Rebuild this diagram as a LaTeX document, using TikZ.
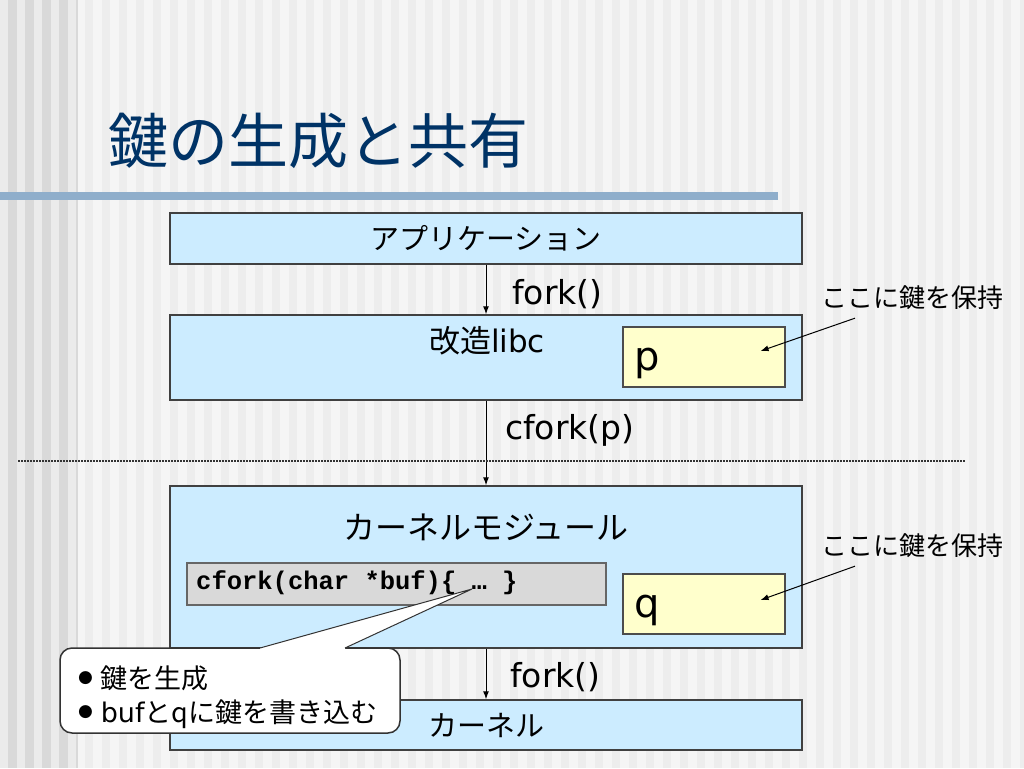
\documentclass[tikz,border=0pt]{standalone}
\usepackage{fontspec}
\setmainfont{Noto Sans CJK JP}
\setmonofont{Liberation Mono}
\newfontfamily\lat{DejaVu Sans}
\usepackage{xcolor}
\usetikzlibrary{arrows.meta}
\usetikzlibrary{positioning,calc}
\definecolor{layerblue}{RGB}{204,236,255}
\definecolor{keyyellow}{RGB}{255,255,204}
\definecolor{codegray}{RGB}{217,217,217}
\definecolor{titleblue}{RGB}{0,51,102}
\definecolor{rulebar}{RGB}{143,174,203}
\newcommand{\layerfont}{\fontsize{29}{34}\selectfont}
\newcommand{\notefont}{\fontsize{27}{34}\selectfont}
\newcommand{\dotmark}{\raisebox{6pt}{\fontsize{17}{17}\selectfont\lat ●}\hspace{8pt}}
\tikzset{
    layer/.style={
        draw=black!75,
        fill=layerblue,
        line width=1.5pt,
        minimum width=632pt,
        inner sep=0pt,
        font=\layerfont
    },
    keybox/.style={
        draw=black!70,
        fill=keyyellow,
        line width=1.2pt,
        minimum width=162pt,
        minimum height=60pt
    },
    codebox/.style={
        draw=black!60,
        fill=codegray,
        line width=1.2pt,
        minimum width=419pt,
        minimum height=42pt
    },
    callname/.style={
        anchor=west,
        inner sep=0pt,
        font=\fontsize{33}{38}\selectfont\lat
    },
    holdtext/.style={
        inner sep=2pt,
        font=\fontsize{26}{30}\selectfont
    },
    keyname/.style={
        anchor=west,
        inner sep=0pt,
        font=\fontsize{40}{46}\selectfont\lat
    },
    note/.style={
        draw=black!80,
        fill=white,
        line width=1.5pt,
        rounded corners=12pt,
        minimum width=340pt,
        minimum height=85pt,
        text width=304pt,
        align=left,
        inner sep=0pt,
        font=\notefont
    },
    arr/.style={
        draw,
        -{Latex[length=8pt, width=6pt]},
        line width=1pt
    }
}

\begin{document}
\begin{tikzpicture}[x=1pt, y=-1pt]
    % background
    \useasboundingbox (0,0) rectangle (1024,768);
    \fill[black!4] (0,0) rectangle (1024,768);
    \fill[black!15] (0,0) rectangle (78,768);
    \foreach \i in {0,...,60} {
        \pgfmathsetmacro\sh{\i<5 ? 8 : 7}
        \fill[black!\sh] (\i*17,0) rectangle ++(8,768);
    }
    \fill[rulebar] (0,192) rectangle (778,200);

    % title
    \node[anchor=west, inner sep=0pt, text=titleblue, font=\fontsize{60}{70}\selectfont] (title) at (108,141) {鍵の生成と共有};

    % layers
    \node[layer, minimum height=51pt] (app) at (486,238.5) {アプリケーション};
    \node[layer, minimum height=85pt] (libc) at (486,357.5) {};
    \node[inner sep=0pt, font=\fontsize{31}{36}\selectfont] (libcname) at (487,341) {改造{\lat libc}};
    \node[layer, minimum height=162pt] (kmod) at (486,567) {};
    \node[inner sep=0pt, font=\fontsize{32}{36}\selectfont] (kmodname) at (486,527) {カーネルモジュール};
    \node[layer, minimum height=50pt] (kern) at (486,725) {カーネル};

    % key storage
    \node[keybox] (pkey) at (704,357) {};
    \node[keyname] (pname) at (634,363.5) {p};
    \node[keybox] (qkey) at (704,604) {};
    \node[keyname] (qname) at (634,610) {q};
    \node[codebox] (code) at (396.5,584) {};
    \node[anchor=west, inner sep=0pt, font=\fontsize{25.5}{28}\selectfont\ttfamily\bfseries] (codetext) at (196,583) {cfork(char *buf)\{ … \}};

    % calls
    \draw[arr] (app) -- (libc);
    \draw[arr] (libc) -- (kmod);
    \draw[arr] (kmod) -- (kern);
    \node[callname] (fork1) at (512,294) {fork()};
    \node[callname] (cfork) at (505,430) {cfork(p)};
    \node[callname] (fork2) at (510,677) {fork()};

    % user / kernel border
    \draw[black!80, line width=1.5pt, dash pattern=on 1.5pt off 1.5pt] (18,461) -- (965,461);

    % key notes
    \node[holdtext] (hold1) at (912,298) {ここに鍵を保持};
    \node[holdtext] (hold2) at (912,546) {ここに鍵を保持};
    \draw[arr] ($(hold1.south)+(-57,6)$) -- ($(pkey.east)+(-25,-6)$);
    \draw[arr] ($(hold2.south)+(-57,6)$) -- ($(qkey.east)+(-25,-4)$);

    % callout
    \node[note] (note) at (230,690.5) {\rule{0pt}{36pt}\dotmark 鍵を生成\\\dotmark{\lat buf}とqに鍵を書き込む};
    \coordinate (ptA) at (260,648);
    \coordinate (ptB) at (345,648);
    \coordinate (codept) at (472,589);
    \fill[white] (ptA) -- (codept) -- (ptB) -- ($(ptB)+(0,1.8)$) -- ($(ptA)+(0,1.8)$) -- cycle;
    \draw[black!80, line width=1pt] (ptA) -- (codept) -- (ptB);
\end{tikzpicture}
\end{document}
